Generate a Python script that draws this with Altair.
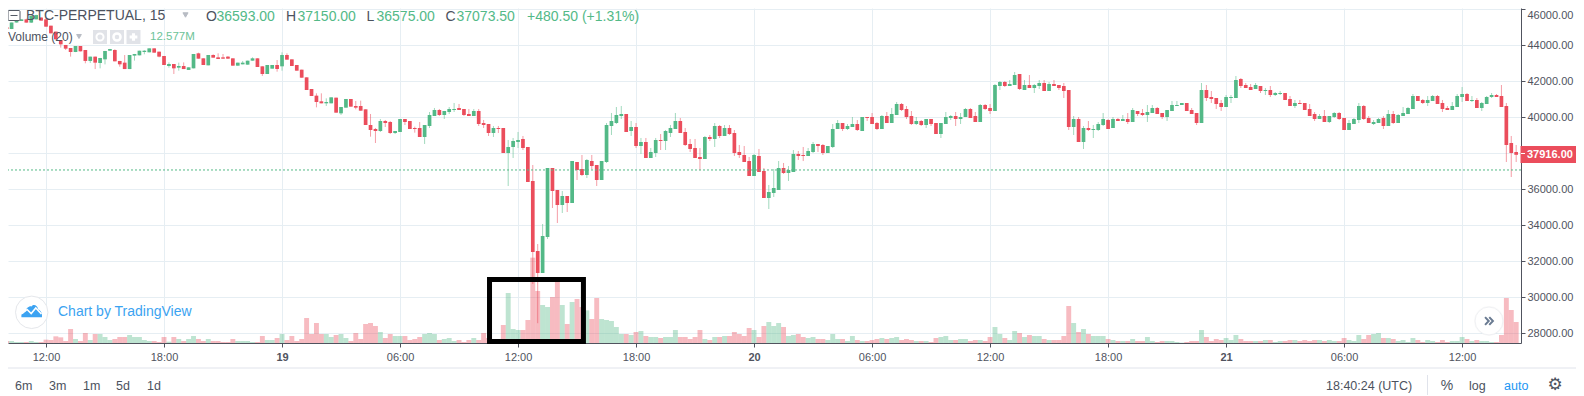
import json
import altair as alt
import pandas as pd

UP = "#53B987"
DOWN = "#EB4D5C"
GRID = "#E6EEF3"
TEXT = "#4C525E"
FONT = "Liberation Sans"

tick_values = list(range(0, 289, 24))
tick_labels = ["12:00", "18:00", "19", "06:00", "12:00", "18:00", "20", "06:00", "12:00", "18:00", "21", "06:00", "12:00"]
price_ticks = list(range(28000, 46001, 2000))
first_index = -8
last_price = 37916
mark_price = 37073.5
box_x = [90.2, 109.3]
box_y = [27544, 30989]

opens = [45000,44910,45260,45350,45440,45260,45440,45540,
45440,45090,44760,44295,44017,43850,43628,43960,43740,43130,
43370,43017,43220,43700,43740,43130,43035,42680,43425,43443,
43628,43610,43830,43646,43406,42850,42960,42757,42850,42630,
42720,43554,43276,42887,43460,43330,43330,43370,43276,42868,
42943,42924,43146,43276,42832,42406,42702,42906,42832,43460,
43220,42906,42646,42220,41572,41202,40887,40776,40776,41091,
40220,40535,41017,40628,40628,40443,39572,39350,39239,39795,
39739,39128,39184,39906,39795,39406,39406,38906,39517,40072,
40406,40128,40295,40406,40517,40461,40184,40072,40350,39683,
39628,39128,39406,39406,38017,38350,38628,38795,38350,36461,
32571,31349,33349,37183,35961,35127,35627,35238,37516,37127,
36794,37572,37350,36517,37517,39517,39683,40072,40184,39239,
39461,38406,38628,37739,38017,38739,38683,39128,39350,39795,
39184,38517,38295,37795,37683,38906,38795,39517,38961,39406,
39128,38072,37906,37572,36739,37850,37017,35517,35794,35961,
37183,36905,36961,37961,37905,37850,38072,38516,38460,38016,
38349,39349,39683,39349,39460,39627,39238,40016,40016,39683,
39349,40072,39683,40127,40738,40460,40072,39627,39794,39572,
39905,39683,39072,39627,39960,40072,39905,40016,40460,40072,
39738,40683,40516,40349,41738,41961,41738,41794,42405,41516,
41794,41627,41738,41905,41461,41849,41794,41738,41516,39461,
39905,38627,39405,39294,39294,39572,39849,39405,39905,39794,
39905,39738,40349,40238,40127,40238,40516,40238,40016,40349,
40627,40683,40794,40405,40238,39683,41516,41127,41072,40794,
40572,41072,41072,42127,41794,41683,41572,41738,41461,41516,
41238,41294,41349,41016,40627,40794,40794,40461,40183,39905,
40072,39738,40016,40238,39961,39294,39627,39849,40627,39961,
39627,39683,39961,39516,40183,39683,40072,40183,40461,41183,
40961,40794,40905,41183,40794,40516,40405,40572,41127,41294,
40905,40961,40516,40738,41127,41238,41183,40627,38572,38072]

closes = [44910,45260,45370,45440,45260,45630,45680,45370,
45035,44665,44330,44054,43813,43628,43960,43665,43130,43370,
43035,43295,43683,43795,43110,42943,42680,43460,43517,43700,
43700,43830,43590,43370,42906,42960,42720,42850,42680,42776,
43517,43257,42906,43460,43313,43240,43257,43257,42868,43035,
43035,43146,43276,42795,42406,42906,42906,42684,43460,43202,
42850,42590,42200,41517,41183,40850,40776,40850,41109,40257,
40572,41017,40591,40535,40368,39572,39295,39239,39795,39683,
39128,39239,39906,39739,39350,39350,38906,39572,40128,40406,
40128,40350,40461,40461,40406,40128,40072,40350,39628,39572,
39128,39406,39350,38017,38350,38683,38739,38295,36406,32517,
31349,33405,37183,35905,35127,35627,35238,37572,37072,36794,
37627,37294,36517,37572,39572,39795,40128,40184,39184,39461,
38406,38628,37739,38072,38739,38683,39239,39406,39795,39128,
38461,38239,37739,37683,38906,38795,39517,38961,39406,39072,
38017,37906,37517,36739,37906,36961,35517,35850,36072,37183,
36905,37072,37961,37850,37850,38127,38516,38405,38016,38405,
39349,39683,39349,39516,39627,39294,40016,39960,39627,39349,
40072,39683,40183,40738,40405,40016,39627,39794,39572,39905,
39627,39072,39683,40016,40072,39905,40016,40460,39960,39738,
40683,40460,40349,41794,41961,41738,41849,42349,41572,41794,
41627,41794,41905,41461,41849,41738,41627,41461,39461,39905,
38627,39405,39294,39349,39627,39905,39349,39905,39794,39905,
39738,40405,40183,40127,40294,40516,40183,40016,40405,40683,
40683,40794,40349,40183,39683,41516,41072,41016,40738,40572,
41127,41127,42072,41738,41627,41516,41794,41461,41516,41238,
41349,41349,40961,40627,40794,40738,40405,40072,39905,40072,
39738,40072,40238,39905,39294,39683,39905,40627,39905,39683,
39738,39905,39516,40183,39683,40127,40238,40516,41183,40905,
40794,40961,41183,40738,40461,40405,40627,41183,41294,40905,
40961,40516,40794,41127,41238,41127,40572,38461,38016,37916]

highs = [45000,45260,45370,45440,45480,45630,45700,45560,
45500,45090,44760,44295,44020,43850,43960,43960,43740,43370,
43370,43300,43690,43800,43780,43130,43460,43460,43520,43700,
43730,43830,43830,43646,43406,43050,42960,43035,43050,42776,
43517,43590,43276,43460,43500,43554,43517,43400,43276,43035,
43128,43146,43330,43276,42832,42906,42906,43183,43609,43554,
43220,42906,42646,42220,41572,41331,41331,41054,41109,41091,
40572,41017,41017,40906,40924,40443,40184,39406,39906,39850,
39795,39239,39906,39906,39795,39480,39739,39572,40295,40517,
40461,40350,40572,40795,40739,40461,40461,40461,40461,39850,
39628,39517,39517,39406,38739,38850,39184,38961,38350,37350,
32960,34072,37183,37183,35961,35905,35627,37572,37516,37905,
37683,37906,37350,37572,39683,40239,40572,40628,40184,39795,
39683,38850,38850,38295,38850,39072,39295,39572,40239,39961,
39406,38795,38795,38295,38961,39017,39683,39572,39572,39572,
39295,38461,38406,37795,37961,38239,37183,36239,37128,37572,
37461,37294,38183,38128,38350,38294,38627,38516,38516,38405,
39627,39849,39683,39627,40016,39849,40016,40016,40238,39738,
40127,40294,40516,40849,40794,40627,40349,40016,39849,39905,
39905,39683,39683,40294,40127,40294,40238,40516,40516,40294,
40738,40738,40738,41849,42016,42016,42072,42516,42405,42072,
42349,41849,42072,42072,41960,42072,41794,41905,41516,40072,
40016,39516,39794,39572,39738,40238,39905,40016,39960,40127,
40238,40516,40349,40460,40683,40683,40572,40238,40405,40905,
40905,40794,40794,40516,40238,41905,41794,41461,41072,40961,
41238,41238,42294,42183,41905,41849,41905,41738,41627,41738,
41405,41461,41349,41183,40961,40961,40794,40738,40294,40183,
40405,40072,40294,40294,39961,39849,39961,40794,40683,40072,
39849,39961,40072,40405,40349,40183,40572,40572,41294,41183,
41016,41183,41238,41238,40961,40627,40849,41294,41683,41349,
41183,41072,40849,41183,41349,41294,41794,40794,38961,38461]

lows = [44810,44900,45260,45350,45260,45240,45440,45370,
45030,44660,44330,43870,43740,43370,43620,43660,43000,43020,
42680,42720,42940,43700,43110,42810,42680,42680,43150,43440,
43500,43610,43590,43330,42906,42757,42406,42590,42680,42630,
42720,43257,42906,42887,43313,43240,43240,43240,42868,42868,
42943,42924,43146,42795,42300,42406,42702,42535,42590,43202,
42850,42590,42200,41517,41183,40553,40776,40628,40776,40257,
40130,40535,40591,40443,40368,39572,38924,38572,39184,39461,
39072,39072,39184,39572,39350,39146,38906,38517,39406,40072,
40072,39906,40184,40295,40406,40072,40072,40072,39517,39406,
38961,38906,39128,38017,36183,37739,38295,38183,36406,30740,
28560,31349,33238,34961,34127,34683,34738,35238,36516,36738,
36627,37109,36183,36517,37461,39017,39628,39906,39184,38961,
38295,37961,37739,37739,37795,38183,38183,38906,39350,39128,
38406,38072,37739,37054,37683,38683,38350,38850,38961,39017,
37850,37739,37517,36739,36739,36961,35517,34905,35572,35961,
36850,36461,36961,37628,37570,37850,38016,38072,37905,38016,
38294,39349,39238,39294,39460,39238,39238,39794,39627,39294,
39349,39683,39683,40127,40349,39905,39572,39572,39516,39405,
39516,39072,38849,39627,39849,39516,39627,40016,39960,39738,
39738,40405,40183,40349,41516,41683,41738,41794,41516,41516,
41627,41349,41572,41461,41461,41738,41516,41072,39294,39016,
38627,38238,39238,38849,39238,39516,39349,39405,39794,39794,
39627,39738,40072,40072,39738,40238,40183,39905,39794,40349,
40627,40683,40349,40183,39572,39683,40905,40794,40461,40349,
40572,40794,41072,41627,41627,41516,41572,41349,41238,41127,
41183,41238,40961,40627,40516,40738,40405,40072,39794,39905,
39738,39683,39961,39849,39294,39294,39627,39683,39849,39683,
39572,39683,39349,39516,39627,39683,40072,40183,40461,40905,
40738,40627,40905,40738,40294,40405,40405,40572,40849,40905,
40849,40516,40349,40738,41072,41127,40572,37516,36683,37516]

volumes = [1.2,1.2,.6,.6,.6,1.2,.6,.6,
2,1.8,4,3.4,1.2,8.4,2.4,1.2,6,1.8,
5.4,5.4,3.6,1.8,2.4,3.6,3.6,4.8,3.6,3.6,
1.8,1.2,1.2,.6,3.6,.8,3.6,2.4,1.2,2.4,
4.2,2.4,1.2,2.4,1.2,1.2,.6,.6,2.4,1.2,
1.2,1.2,.6,.6,4.2,1.8,1.8,3,5.4,1.8,
4.2,1.2,2.4,15,5.4,12,5.4,5.4,3.6,4.8,
5.4,3,1.2,6,2.4,11.4,12,10.2,6.6,3,
5.4,4.2,4.2,4.2,1.8,2.4,3.6,5.4,6,5.4,
1.8,2.4,3,1.2,1.8,.6,1.8,3,1.8,6,
3,2.4,1.8,10.8,30,8.4,7.8,7.8,13.8,51.2,
31.2,22.8,21.6,27.6,37.2,22.8,11.4,24.6,26.4,21.6,
19.6,14.4,27,14.4,13.8,13.2,9.6,5.4,5.4,4.8,
6.6,7.2,4.2,3.6,3.6,3,3.6,3.6,7.8,3.6,
3.6,2.4,3.6,7.8,2.4,1.8,3.6,3.6,4.2,4.2,
6.6,5.4,4.2,9,7.8,3.6,10.2,12.6,10.2,12,
9.6,4.2,4.8,5.4,3.6,3,3.6,2.4,2.4,1.8,
5.4,2.4,2.4,1.2,4.2,1.8,1.2,1.2,1.8,2.4,
3,2.4,3,3.6,1.8,2.4,1.8,1.2,1.2,1.2,
.6,3,3.6,4.2,1.8,1.8,2.4,2.4,1.2,1.8,
1.8,1.2,3.6,9.6,5.4,3,1.8,7.2,6,3.6,
4.8,4.2,4.2,2.4,1.8,1.8,1.8,4.2,22.2,12,
6.6,8.4,5.4,4.2,4.2,4.2,2.4,1.8,1.2,1.2,
1.2,2.4,1.2,1.2,3.6,1.2,.6,1.2,1.2,1.2,
.6,.2,.6,1.2,1.2,7.8,3.6,1.2,2.4,1.8,
3,1.8,4.8,2.4,1.2,1.2,1.2,1.2,1.8,1.8,
.6,1.2,1.2,1.8,1.8,1.2,1.8,1.2,1.8,1.8,
1.2,1.8,1.2,1.2,3,1.8,1.2,4.8,2.4,4.8,
5.4,6,3,3,2.4,1.2,1.8,.6,3,1.8,
.6,1.8,1.2,.6,1.8,.6,1.2,1.2,3.6,2.4,
1.2,1.8,1.2,1.2,.6,.6,4.8,27,19.8,12.6]

df = pd.DataFrame({"open": opens, "high": highs, "low": lows, "close": closes, "volume": volumes})
df["i"] = range(first_index, first_index + len(df))
df["top"] = df[["open", "close"]].max(axis=1)
df["bottom"] = df[["open", "close"]].min(axis=1)
df["dir"] = ["up" if c >= o else "down" for o, c in zip(df["open"], df["close"])]

x_scale = alt.Scale(domain=[-7.73, 299.98], nice=False, zero=False, padding=0)
y_scale = alt.Scale(domain=[27461, 46072], nice=False, zero=False, padding=0)
v_scale = alt.Scale(domain=[0, 201], nice=False, zero=False, padding=0)
c_scale = alt.Scale(domain=["up", "down"], range=[UP, DOWN])

label_js = json.dumps(tick_labels)
x_axis = alt.Axis(values=tick_values, labelExpr=f"{label_js}[round(datum.value/24)]", title=None,
                  grid=True, gridColor=GRID, gridWidth=1, domainColor="#50535E", tickColor="#50535E",
                  tickSize=4, labelColor="#50535E", labelFont=FONT, labelFontSize=11, labelPadding=4,
                  labelFlush=False, labelOverlap=False,
                  labelFontWeight={"condition": {"test": "datum.value == 48 || datum.value == 144 || datum.value == 240", "value": "bold"}, "value": "normal"})
y_axis = alt.Axis(values=price_ticks, format=".2f", title=None, orient="right", grid=True, gridColor=GRID,
                  gridWidth=1, domainColor="#50535E", tickColor="#50535E", tickSize=4, labelColor="#50535E",
                  labelFont=FONT, labelFontSize=11, labelPadding=2, labelOverlap=False, labelFlush=False,
                  labelBaseline={"condition": {"test": "datum.value == 46000", "value": "top"}, "value": "middle"})

base = alt.Chart(df)
X = alt.X("i:Q", scale=x_scale, axis=x_axis)

axes_layer = base.mark_rule(opacity=0).encode(
    x=X,
    y=alt.Y("high:Q", scale=y_scale, axis=y_axis),
)
vol_layer = base.mark_bar(size=4.917, opacity=0.38, clip=True).encode(
    x=X, y=alt.Y("volume:Q", scale=v_scale, axis=None),
    color=alt.Color("dir:N", scale=c_scale, legend=None),
)
wick_layer = base.mark_rule(strokeWidth=1, opacity=0.55, clip=True).encode(
    x=X, y=alt.Y("low:Q", scale=y_scale, axis=None), y2="high:Q",
    color=alt.Color("dir:N", scale=c_scale, legend=None),
)
body_layer = base.mark_bar(size=3.7, clip=True).encode(
    x=X, y=alt.Y("bottom:Q", scale=y_scale, axis=None), y2="top:Q",
    color=alt.Color("dir:N", scale=c_scale, legend=None),
)
price_line = alt.Chart(pd.DataFrame({"p": [mark_price]})).mark_rule(
    color=UP, strokeWidth=1, strokeDash=[2, 2]
).encode(y=alt.Y("p:Q", scale=y_scale, axis=None))
box = alt.Chart(pd.DataFrame({"x": [box_x[0]], "x2": [box_x[1]], "y": [box_y[0]], "y2": [box_y[1]]})).mark_rect(
    fill=None, fillOpacity=0, stroke="#000000", strokeWidth=5
).encode(x=alt.X("x:Q", scale=x_scale, axis=x_axis), x2="x2:Q",
         y=alt.Y("y:Q", scale=y_scale, axis=None), y2="y2:Q")

one = alt.Data(values=[{"a": 1}])


def label(text, x, y, size=12, color=TEXT, align="left", weight="normal", font=FONT, opacity=1):
    return alt.Chart(one).mark_text(text=text, align=align, baseline="middle", fontSize=size, color=color,
                                    fontWeight=weight, font=font, opacity=opacity).encode(
        x=alt.value(x - 8), y=alt.value(y - 8))


def block(x0, x1, y0, y1, fill, stroke=None, radius=0):
    kw = {"fill": fill, "cornerRadius": radius}
    if stroke:
        kw["stroke"] = stroke
        kw["strokeWidth"] = 1
    return alt.Chart(one).mark_rect(**kw).encode(
        x=alt.value(x0 - 8), x2=alt.value(x1 - 8), y=alt.value(y0 - 8), y2=alt.value(y1 - 8))


def line(x0, x1, y0, y1, color, width=1):
    return alt.Chart(one).mark_rule(color=color, strokeWidth=width).encode(
        x=alt.value(x0 - 8), x2=alt.value(x1 - 8), y=alt.value(y0 - 8), y2=alt.value(y1 - 8))


def symbol(shape, x, y, size, fill=None, stroke=None, width=1, opacity=1):
    kw = {"shape": shape, "size": size, "opacity": opacity, "strokeWidth": width}
    kw["filled"] = fill is not None
    if fill is not None:
        kw["fill"] = fill
        kw["stroke"] = stroke or fill
    else:
        kw["stroke"] = stroke
    return alt.Chart(one).mark_point(**kw).encode(x=alt.value(x - 8), y=alt.value(y - 8))


CLOUD = "M-1,0.55 C-1.05,0.2 -0.8,0 -0.6,0 C-0.55,-0.3 -0.3,-0.55 0,-0.5 C0.15,-0.75 0.6,-0.6 0.62,-0.2 C0.9,-0.15 1.05,0.2 1,0.55 Z"
ZIG = "M-0.95,0.2 L-0.45,-0.2 L-0.05,0.2 L0.4,-0.35 L0.95,0.25"
CHEV = "M-0.75,-0.75 L-0.05,0 L-0.75,0.75 M0.05,-0.75 L0.75,0 L0.05,0.75"

overlay = [
    # legend header
    block(8, 20, 10.5, 20.5, "#FFFFFF", "#555B66", 1),
    line(10.5, 17.5, 15.5, 15.5, "#555B66"),
    label("BTC-PERPETUAL, 15", 26, 16, 14),
    symbol("triangle-down", 185.5, 15, 26, fill="#B8BCC4"),
    label("O", 206, 16.5, 14), label("36593.00", 216.5, 16.5, 14, UP),
    label("H", 286, 16.5, 14), label("37150.00", 297.5, 16.5, 14, UP),
    label("L", 366.5, 16.5, 14), label("36575.00", 376.5, 16.5, 14, UP),
    label("C", 445.5, 16.5, 14), label("37073.50", 456.5, 16.5, 14, UP),
    label("+480.50 (+1.31%)", 527, 16.5, 14, UP),
    label("Volume (20)", 8, 37, 12),
    symbol("triangle-down", 79, 36.5, 22, fill="#B8BCC4"),
    block(93, 107, 30, 44, "#E1E3E8"), block(110, 124, 30, 44, "#E1E3E8"), block(126.5, 140.5, 30, 44, "#E1E3E8"),
    symbol("circle", 100, 37, 50, stroke="#FFFFFF", width=2),
    symbol("circle", 117, 37, 50, stroke="#FFFFFF", width=2.5),
    symbol("cross", 133.5, 37, 60, fill="#FFFFFF", width=0),
    label("12.577M", 150, 37, 11.5, UP, opacity=0.85),
    # watermark
    symbol("circle", 31.7, 312.3, 1050, fill="#FFFFFF", stroke="#E5E7EB"),
    symbol(CLOUD, 31.7, 311.5, 420, fill="#3CA3F2", width=0),
    symbol(ZIG, 31.7, 311.5, 420, stroke="#FFFFFF", width=1.6),
    label("Chart by TradingView", 58, 312, 14, "#3BA3F1"),
    # scroll button
    symbol("circle", 1489, 321, 900, fill="#000000", width=0, opacity=0.025),
    symbol("circle", 1489, 321, 780, fill="#FFFFFF", stroke="#F0F1F4"),
    symbol(CHEV, 1489, 321, 110, stroke="#6A7B92", width=2),
    # last price tag
    block(1520.5, 1576, 146, 163, DOWN),
    line(1521, 1525, 153.5, 153.5, "#FFFFFF"),
    label(f"{last_price:.2f}", 1527, 154.5, 11, "#FFFFFF", weight="bold"),
    # bottom bar
    line(8, 1576, 368, 368, "#E0E3EB"),
    label("6m", 15, 385.5, 12.5), label("3m", 49, 385.5, 12.5), label("1m", 83, 385.5, 12.5),
    label("5d", 116, 385.5, 12.5), label("1d", 147, 385.5, 12.5),
    label("18:40:24 (UTC)", 1326, 385.5, 12.5),
    line(1427.5, 1427.5, 375, 395, "#E0E3EB"),
    label("%", 1447, 385.5, 14, align="center"),
    label("log", 1469, 385.5, 12.5),
    label("auto", 1504, 385.5, 12.5, "#2196F3"),
    label("\u2699", 1555, 385, 17, align="center", font="DejaVu Sans"),
]

chart = alt.layer(axes_layer, vol_layer, wick_layer, body_layer, price_line, *overlay, box).resolve_scale(
    y="independent"
).properties(
    width=1513, height=335, autosize="none",
    padding={"left": 0, "top": 0, "right": 55, "bottom": 53},
    background="#FFFFFF",
).configure_view(stroke=None)

chart.save("out.html", embed_options={"renderer": "svg", "actions": False})
